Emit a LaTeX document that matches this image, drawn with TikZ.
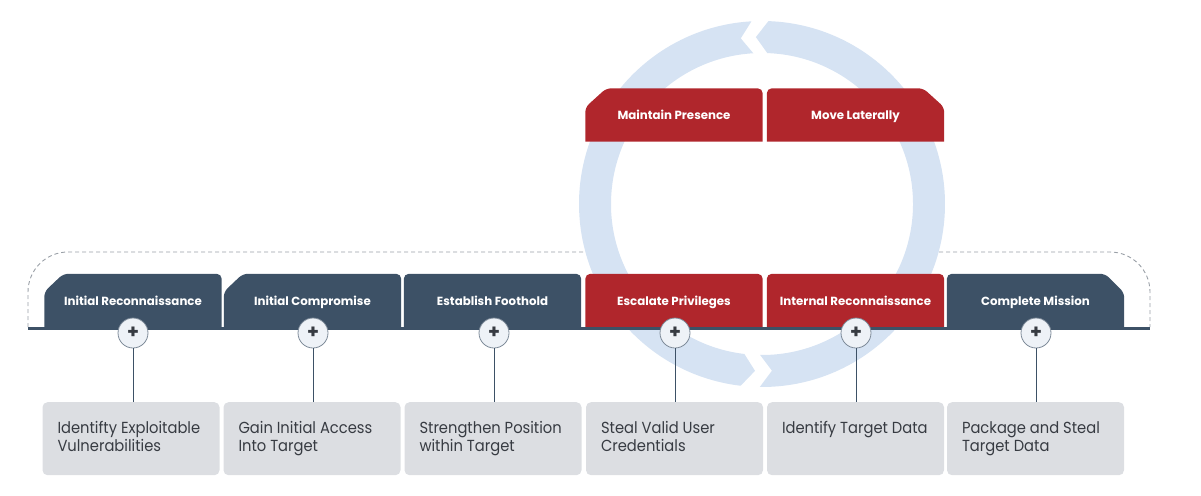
\documentclass[tikz,border=0pt]{standalone}
\usepackage{fontspec}
\setmainfont{Poppins}
\newfontfamily\notefont[FakeStretch=0.92]{Poppins}
\usetikzlibrary{calc,backgrounds}

\definecolor{slate}{HTML}{3D5166}
\definecolor{crimson}{HTML}{B0262C}
\definecolor{ringblue}{HTML}{D6E3F3}
\definecolor{boxgrey}{HTML}{DCDEE2}
\definecolor{inkgrey}{HTML}{373B42}
\definecolor{dashgrey}{HTML}{9AA0A7}
\definecolor{plusfill}{HTML}{EEF2F7}
\definecolor{plusedge}{HTML}{7D8A98}

\begin{document}
\begin{tikzpicture}[x=1pt, y=-1pt,
    stage/.style={minimum width=177, minimum height=53, inner sep=0, text=white,
      text height=9, text depth=0, font=\fontsize{11.8}{14}\selectfont\bfseries},
    plus/.style={circle, draw=plusedge, fill=plusfill, line width=0.8, minimum size=30,
      inner sep=0, text=inkgrey, font=\fontsize{19}{19}\selectfont\bfseries},
    detail/.style={anchor=north, rounded corners=5, fill=boxgrey, minimum width=177,
      inner xsep=15, inner ysep=0, text width=147, align=flush left, text height=31, text depth=42,
      text=inkgrey, font=\notefont\fontsize{16}{18}\selectfont},
    link/.style={slate, line width=1},
    outline/.style={dashgrey, line width=0.9, dash pattern=on 4 off 3, rounded corners=40}]
    \useasboundingbox (0,0) rectangle (1201,495);

    % Stages
    \node[stage] (recon) at (133,300.5) {Initial Reconnaissance};
    \node[stage] (compromise) at (312.5,300.5) {Initial Compromise};
    \node[stage] (foothold) at (492.5,300.5) {Establish Foothold};
    \node[stage] (escalate) at (674,300.5) {Escalate Privileges};
    \node[stage] (internal) at (855.5,300.5) {Internal Reconnaissance};
    \node[stage] (mission) at (1035.5,300.5) {Complete Mission};
    \node[stage] (presence) at (674,115) {Maintain Presence};
    \node[stage] (lateral) at (855.5,115) {Move Laterally};

    % Loop outline and cycle
    \coordinate (loopL) at (28,327);
    \coordinate (loopR) at (1150,327);
    \begin{scope}[on background layer]
        \begin{scope}[shift={(762,204)}, yscale=-1]
            \fill[ringblue] (93.3:183) arc[start angle=93.3, end angle=263.3, radius=183]
                -- (267.6:167) -- (263.3:151) arc[start angle=263.3, end angle=93.3, radius=151]
                -- (97.3:167) -- cycle;
            \fill[ringblue] (269.3:183) arc[start angle=269.3, end angle=448, radius=183]
                -- (452.1:167) -- (448:151) arc[start angle=448, end angle=269.3, radius=151]
                -- (273.4:167) -- cycle;
        \end{scope}
        \draw[outline] (loopL) -- (28,252) -- (585,252);
        \draw[outline] (939,252) -- (1150,252) -- (loopR);

        % Tab shapes
        \fill[slate, rounded corners=5] (recon.south west) -- ($(recon.north west)+(0,18)$)
            -- ($(recon.north west)+(19,0)$) -- (recon.north east) -- (recon.south east);
        \fill[slate, rounded corners=5] (compromise.south west) -- ($(compromise.north west)+(0,18)$)
            -- ($(compromise.north west)+(19,0)$) -- (compromise.north east) -- (compromise.south east);
        \fill[slate, rounded corners=5] (foothold.south west) -- (foothold.north west)
            -- (foothold.north east) -- (foothold.south east);
        \fill[crimson, rounded corners=5] (escalate.south west) -- (escalate.north west)
            -- (escalate.north east) -- (escalate.south east);
        \fill[crimson, rounded corners=5] (internal.south west) -- (internal.north west)
            -- (internal.north east) -- (internal.south east);
        \fill[slate, rounded corners=5] (mission.south west) -- (mission.north west)
            -- ($(mission.north east)+(-19,0)$) -- ($(mission.north east)+(0,19)$) -- (mission.south east);
        \fill[crimson, rounded corners=5] (presence.south west) -- ($(presence.north west)+(0,19)$)
            -- ($(presence.north west)+(21,0)$) -- (presence.north east) -- (presence.south east);
        \fill[crimson, rounded corners=5] (lateral.south west) -- (lateral.north west)
            -- ($(lateral.north east)+(-21,0)$) -- ($(lateral.north east)+(0,19)$) -- (lateral.south east);
    \end{scope}

    % Base line
    \draw[slate, line width=3] (loopL |- 0,328) -- (loopR |- 0,328);

    % Details
    \node[plus] (p1) at (133,333) {+};
    \node[plus] (p2) at (313,333) {+};
    \node[plus] (p3) at (494,333) {+};
    \node[plus] (p4) at (675,333) {+};
    \node[plus] (p5) at (856,333) {+};
    \node[plus] (p6) at (1036,333) {+};
    \node[detail] (d1) at (131,402) {Identifty Exploitable\\Vulnerabilities};
    \node[detail] (d2) at (312,402) {Gain Initial Access\\Into Target};
    \node[detail] (d3) at (493,402) {Strengthen Position\\within Target};
    \node[detail] (d4) at (674.5,402) {Steal Valid User\\Credentials};
    \node[detail] (d5) at (855.5,402) {Identify Target Data};
    \node[detail] (d6) at (1035.5,402) {Package and Steal\\Target Data};

    \draw[link] (p1) -- (p1 |- d1.north);
    \draw[link] (p2) -- (p2 |- d2.north);
    \draw[link] (p3) -- (p3 |- d3.north);
    \draw[link] (p4) -- (p4 |- d4.north);
    \draw[link] (p5) -- (p5 |- d5.north);
    \draw[link] (p6) -- (p6 |- d6.north);
\end{tikzpicture}
\end{document}
